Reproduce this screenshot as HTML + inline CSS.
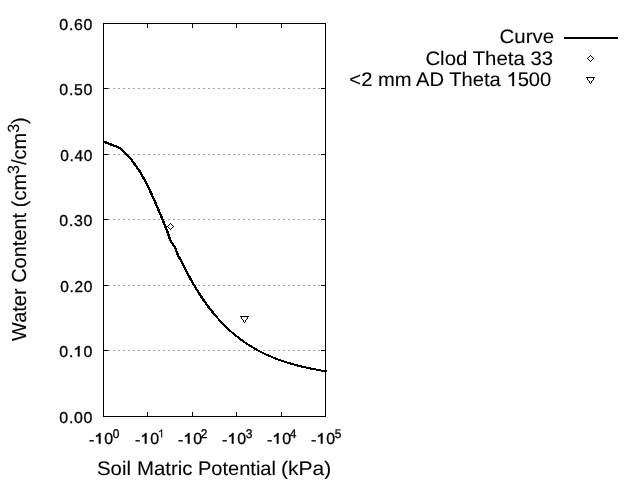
<!DOCTYPE html>
<html><head><meta charset="utf-8"><title>plot</title>
<style>
html,body{margin:0;padding:0;background:#fff;}
body{width:640px;height:480px;position:relative;overflow:hidden;font-family:"Liberation Sans",sans-serif;color:#000;}
#plot{position:absolute;left:0;top:0;}
#txt{position:absolute;left:0;top:0;width:640px;height:480px;mix-blend-mode:multiply;}
.t{position:absolute;white-space:nowrap;line-height:1;text-rendering:geometricPrecision;}
.yt,.xt{-webkit-text-stroke:0.3px #000;letter-spacing:0.6px;}
.xl,.yl,.lg{-webkit-text-stroke:0.1px #000;}
.yt{font-size:14.7px;transform:scaleX(1.085);transform-origin:right top;}
.xt{font-size:14.7px;transform:scale(1.085,1.09);transform-origin:left top;}
.one{display:inline-block;width:0.5562em;height:0.655em;vertical-align:baseline;overflow:visible;}
.one path{fill:#000;stroke:#000;stroke-width:80;}
.one2{height:0.7188em;}
.one2 path{stroke-width:25;}
.yt .one,.xt .one{margin-right:0.6px;}
.xt>.one{margin-left:-0.8px;}
.sup .one{margin-right:0;}
.sup .one path{stroke-width:0;}
.hy{position:relative;top:1px;}
.z{margin-left:0.5px;}
.sup{letter-spacing:0;font-size:11.5px;position:relative;top:-5px;display:inline-block;transform:translateY(-0.5px) scaleX(0.96);transform-origin:left bottom;margin-left:-0.5px;}
.xl{font-size:19.5px;transform:scaleX(1.046);transform-origin:left top;}
.yl{font-size:19.5px;transform-origin:left top;transform:scaleX(1.04) rotate(-90deg) scaleX(1.0254);}
.sup2{font-size:15.6px;position:relative;top:-6.2px;}
.lg{font-size:19.5px;transform:scaleX(1.046);transform-origin:right top;}
</style></head><body>
<svg id="plot" width="640" height="480" viewBox="0 0 640 480" shape-rendering="crispEdges">
<line x1="103" y1="88.5" x2="325" y2="88.5" stroke="#a0a0a0" stroke-width="1" stroke-dasharray="2 3"/>
<line x1="103" y1="154.5" x2="325" y2="154.5" stroke="#a0a0a0" stroke-width="1" stroke-dasharray="2 3"/>
<line x1="103" y1="219.5" x2="325" y2="219.5" stroke="#a0a0a0" stroke-width="1" stroke-dasharray="2 3"/>
<line x1="103" y1="285.5" x2="325" y2="285.5" stroke="#a0a0a0" stroke-width="1" stroke-dasharray="2 3"/>
<line x1="103" y1="350.5" x2="325" y2="350.5" stroke="#a0a0a0" stroke-width="1" stroke-dasharray="2 3"/>
<rect x="103.5" y="23.5" width="222" height="393" fill="none" stroke="#000" stroke-width="1"/>
<rect x="147" y="23" width="1" height="5" fill="#000"/>
<rect x="147" y="412" width="1" height="5" fill="#000"/>
<rect x="192" y="23" width="1" height="5" fill="#000"/>
<rect x="192" y="412" width="1" height="5" fill="#000"/>
<rect x="236" y="23" width="1" height="5" fill="#000"/>
<rect x="236" y="412" width="1" height="5" fill="#000"/>
<rect x="281" y="23" width="1" height="5" fill="#000"/>
<rect x="281" y="412" width="1" height="5" fill="#000"/>
<rect x="103" y="88" width="5" height="1" fill="#000"/>
<rect x="321" y="88" width="5" height="1" fill="#000"/>
<rect x="103" y="154" width="5" height="1" fill="#000"/>
<rect x="321" y="154" width="5" height="1" fill="#000"/>
<rect x="103" y="219" width="5" height="1" fill="#000"/>
<rect x="321" y="219" width="5" height="1" fill="#000"/>
<rect x="103" y="285" width="5" height="1" fill="#000"/>
<rect x="321" y="285" width="5" height="1" fill="#000"/>
<rect x="103" y="350" width="5" height="1" fill="#000"/>
<rect x="321" y="350" width="5" height="1" fill="#000"/>
<polyline points="103.50,141.50 120.00,148.00 131.25,159.40 140.50,172.45 145.00,180.64 149.00,188.70 153.00,197.35 157.00,206.42 161.00,215.73 165.40,226.60 167.60,232.25 169.40,237.90 171.00,241.60 174.10,246.00 176.00,249.75 178.00,255.40 181.00,260.65 185.00,268.65 189.00,276.21 193.00,283.34 197.00,290.03 201.00,296.29 205.00,302.14 209.00,307.60 213.00,312.69 217.00,317.43" fill="none" stroke="#000" stroke-width="2.35" stroke-linejoin="round"/>
<polyline points="217.00,317.43 221.00,321.84 225.00,325.94 229.00,329.75 233.00,333.30 237.00,336.59 241.00,339.65 245.00,342.49 249.00,345.13 253.00,347.58 257.00,349.86 261.00,351.98 265.00,353.94 269.00,355.77 273.00,357.46 277.00,359.03 281.00,360.50 285.00,361.85 289.00,363.11 293.00,364.28 297.00,365.37 301.00,366.38 305.00,367.32 309.00,368.19 313.00,369.00 317.00,369.75 321.00,370.45 325.60,371.19 327.00,371.40" fill="none" stroke="#000" stroke-width="2" stroke-linejoin="round"/>
<rect x="564" y="37" width="54" height="2" fill="#000"/>
<rect x="170" y="223" width="1" height="1" fill="#000"/><rect x="169" y="224" width="1" height="1" fill="#000"/><rect x="171" y="224" width="1" height="1" fill="#000"/><rect x="168" y="225" width="1" height="1" fill="#000"/><rect x="172" y="225" width="1" height="1" fill="#000"/><rect x="167" y="226" width="1" height="1" fill="#000"/><rect x="173" y="226" width="1" height="1" fill="#000"/><rect x="168" y="227" width="1" height="1" fill="#000"/><rect x="172" y="227" width="1" height="1" fill="#000"/><rect x="169" y="228" width="1" height="1" fill="#000"/><rect x="171" y="228" width="1" height="1" fill="#000"/><rect x="170" y="229" width="1" height="1" fill="#000"/>
<rect x="590" y="55" width="1" height="1" fill="#000"/><rect x="589" y="56" width="1" height="1" fill="#000"/><rect x="591" y="56" width="1" height="1" fill="#000"/><rect x="588" y="57" width="1" height="1" fill="#000"/><rect x="592" y="57" width="1" height="1" fill="#000"/><rect x="587" y="58" width="1" height="1" fill="#000"/><rect x="593" y="58" width="1" height="1" fill="#000"/><rect x="588" y="59" width="1" height="1" fill="#000"/><rect x="592" y="59" width="1" height="1" fill="#000"/><rect x="589" y="60" width="1" height="1" fill="#000"/><rect x="591" y="60" width="1" height="1" fill="#000"/><rect x="590" y="61" width="1" height="1" fill="#000"/>
<rect x="240" y="316" width="9" height="1" fill="#000"/><rect x="241" y="317" width="1" height="1" fill="#000"/><rect x="241" y="318" width="1" height="1" fill="#000"/><rect x="242" y="319" width="1" height="1" fill="#000"/><rect x="243" y="320" width="1" height="1" fill="#000"/><rect x="243" y="321" width="1" height="1" fill="#000"/><rect x="244" y="322" width="1" height="1" fill="#000"/><rect x="245" y="320" width="1" height="1" fill="#000"/><rect x="245" y="321" width="1" height="1" fill="#000"/><rect x="246" y="319" width="1" height="1" fill="#000"/><rect x="247" y="317" width="1" height="1" fill="#000"/><rect x="247" y="318" width="1" height="1" fill="#000"/>
<rect x="586" y="77" width="9" height="1" fill="#000"/><rect x="587" y="78" width="1" height="1" fill="#000"/><rect x="587" y="79" width="1" height="1" fill="#000"/><rect x="588" y="80" width="1" height="1" fill="#000"/><rect x="589" y="81" width="1" height="1" fill="#000"/><rect x="589" y="82" width="1" height="1" fill="#000"/><rect x="590" y="83" width="1" height="1" fill="#000"/><rect x="591" y="81" width="1" height="1" fill="#000"/><rect x="591" y="82" width="1" height="1" fill="#000"/><rect x="592" y="80" width="1" height="1" fill="#000"/><rect x="593" y="78" width="1" height="1" fill="#000"/><rect x="593" y="79" width="1" height="1" fill="#000"/>
</svg>
<div id="txt">
<div id="yt0" class="t yt" style="right:546.70px;top:18px;transform:scale(1.0850,1.07)">0.60</div>
<div id="yt1" class="t yt" style="right:546.70px;top:83px;transform:scale(1.0850,1.07)">0.50</div>
<div id="yt2" class="t yt" style="right:546.70px;top:149px;transform:scale(1.0546,1.07)">0.40</div>
<div id="yt3" class="t yt" style="right:546.70px;top:214px;transform:scale(1.0850,1.07)">0.30</div>
<div id="yt4" class="t yt" style="right:546.70px;top:280px;transform:scale(1.0546,1.07)">0.20</div>
<div id="yt5" class="t yt" style="right:546.70px;top:345px;transform:scale(1.0850,1.07)">0.<svg class="one" viewBox="0 0 1139 1472" preserveAspectRatio="none"><path d="M763 1472L583 1472L583 325Q518 387 412.5 449Q307 511 223 542L223 368Q374 297 487 196Q600 95 647 0L763 0Z"/></svg>0</div>
<div id="yt6" class="t yt" style="right:546.70px;top:411px;transform:scale(1.0850,1.07)">0.00</div>
<div id="xt0" class="t xt" style="left:89px;top:432px"><span class="hy">-</span><svg class="one" viewBox="0 0 1139 1472" preserveAspectRatio="none"><path d="M763 1472L583 1472L583 325Q518 387 412.5 449Q307 511 223 542L223 368Q374 297 487 196Q600 95 647 0L763 0Z"/></svg><span class="z">0</span><span class="sup" style="margin-left:-0.5px">0</span></div>
<div id="xt1" class="t xt" style="left:135px;top:432px"><span class="hy">-</span><svg class="one" viewBox="0 0 1139 1472" preserveAspectRatio="none"><path d="M763 1472L583 1472L583 325Q518 387 412.5 449Q307 511 223 542L223 368Q374 297 487 196Q600 95 647 0L763 0Z"/></svg><span class="z">0</span><span class="sup" style="margin-left:-2.2px"><svg class="one" viewBox="0 0 1139 1472" preserveAspectRatio="none"><path d="M763 1472L583 1472L583 325Q518 387 412.5 449Q307 511 223 542L223 368Q374 297 487 196Q600 95 647 0L763 0Z"/></svg></span></div>
<div id="xt2" class="t xt" style="left:178px;top:432px"><span class="hy">-</span><svg class="one" viewBox="0 0 1139 1472" preserveAspectRatio="none"><path d="M763 1472L583 1472L583 325Q518 387 412.5 449Q307 511 223 542L223 368Q374 297 487 196Q600 95 647 0L763 0Z"/></svg><span class="z">0</span><span class="sup" style="margin-left:-1.8px">2</span></div>
<div id="xt3" class="t xt" style="left:222px;top:432px"><span class="hy">-</span><svg class="one" viewBox="0 0 1139 1472" preserveAspectRatio="none"><path d="M763 1472L583 1472L583 325Q518 387 412.5 449Q307 511 223 542L223 368Q374 297 487 196Q600 95 647 0L763 0Z"/></svg><span class="z">0</span><span class="sup" style="margin-left:-0.5px">3</span></div>
<div id="xt4" class="t xt" style="left:267px;top:432px"><span class="hy">-</span><svg class="one" viewBox="0 0 1139 1472" preserveAspectRatio="none"><path d="M763 1472L583 1472L583 325Q518 387 412.5 449Q307 511 223 542L223 368Q374 297 487 196Q600 95 647 0L763 0Z"/></svg><span class="z">0</span><span class="sup" style="margin-left:-1.8px">4</span></div>
<div id="xt5" class="t xt" style="left:311px;top:432px"><span class="hy">-</span><svg class="one" viewBox="0 0 1139 1472" preserveAspectRatio="none"><path d="M763 1472L583 1472L583 325Q518 387 412.5 449Q307 511 223 542L223 368Q374 297 487 196Q600 95 647 0L763 0Z"/></svg><span class="z">0</span><span class="sup" style="margin-left:-0.5px">5</span></div>
<div id="xl0" class="t xl" style="left:97px;top:460px;transform:scaleX(1.046)">Soil</div>
<div id="xl1" class="t xl" style="left:137px;top:460px;transform:scaleX(1.046)">Matric</div>
<div id="xl2" class="t xl" style="left:198px;top:460px;transform:scaleX(1.027)">Potential</div>
<div id="xl3" class="t xl" style="left:281px;top:460px;transform:scaleX(1.078)">(kPa)</div>
<div id="yl" class="t yl" style="left:10px;top:341px">Water Content (cm<span class="sup2">3</span>/cm<span class="sup2">3</span>)</div>
<div id="lg0" class="t lg" style="right:86px;top:28px;transform:scaleX(1.046)">Curve</div>
<div id="lg1" class="t lg" style="right:87px;top:50px;transform:scaleX(1.046)">Clod Theta 33</div>
<div id="lg2" class="t lg" style="right:89px;top:71px;transform:scaleX(1.034)">&lt;2 mm AD Theta <svg class="one one2" viewBox="0 0 1139 1472" preserveAspectRatio="none"><path d="M763 1472L583 1472L583 325Q518 387 412.5 449Q307 511 223 542L223 368Q374 297 487 196Q600 95 647 0L763 0Z"/></svg>500</div>
</div>
</body></html>
